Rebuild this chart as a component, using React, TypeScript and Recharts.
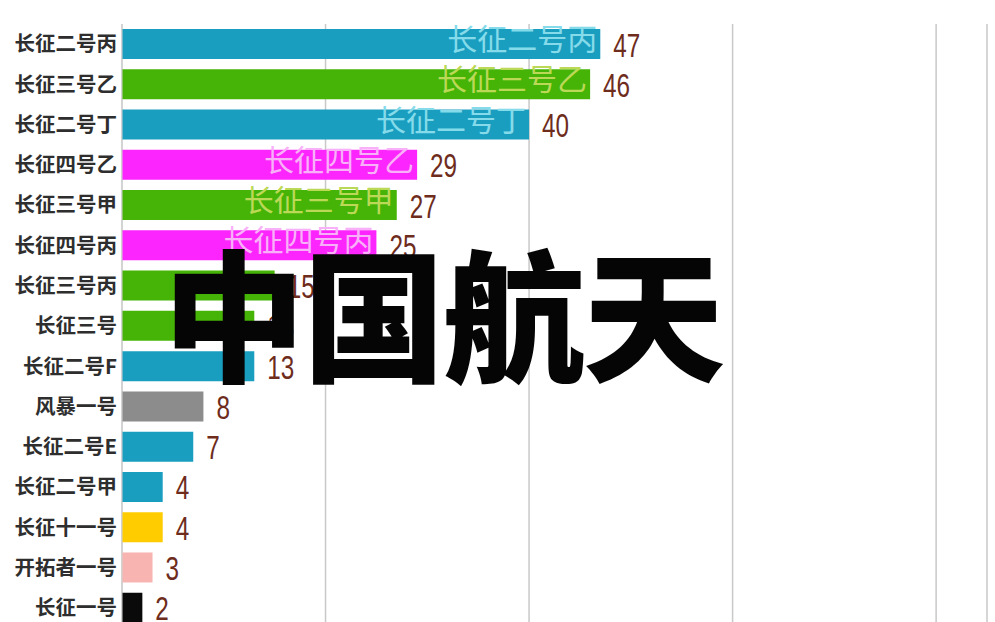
import React from 'react';
import { BarChart, Bar, XAxis, YAxis, CartesianGrid, Cell, LabelList } from 'recharts';

const rockets = [
  '长征二号丙', '长征三号乙', '长征二号丁', '长征四号乙', '长征三号甲',
  '长征四号丙', '长征三号丙', '长征三号', '长征二号F', '风暴一号',
  '长征二号E', '长征二号甲', '长征十一号', '开拓者一号', '长征一号',
];
const launches = [47, 46, 40, 29, 27, 25, 15, 13, 13, 8, 7, 4, 4, 3, 2];
const family = [
  'cz2', 'cz3', 'cz2', 'cz4', 'cz3',
  'cz4', 'cz3', 'cz3', 'cz2', 'fb1',
  'cz2', 'cz2', 'cz11', 'kt1', 'cz1',
];
const xTicks = [0, 20, 40, 60, 80];

const barColor: Record<string, string> = {
  cz2: '#1a9ec0',
  cz3: '#45b406',
  cz4: '#fd25fd',
  fb1: '#8c8c8c',
  cz11: '#ffcc00',
  kt1: '#f8b4b0',
  cz1: '#0a0a0a',
};
const nameColor: Record<string, string> = {
  cz2: '#86dbea',
  cz3: '#bcd857',
  cz4: '#f8b0f8',
  fb1: '#cccccc',
  cz11: '#ffe680',
  kt1: '#fde0de',
  cz1: '#888888',
};

const data = rockets.map((name, i) => ({ name, value: launches[i], family: family[i] }));

const InnerName = (props: any) => {
  const { x, y, width, height, index } = props;
  const d = data[index];
  if (!d || d.value < 20) return null;
  return (
    <text
      x={x + width - 3}
      y={y + height / 2 - 7}
      textAnchor="end"
      dominantBaseline="central"
      fontSize={30}
      fontFamily="'Noto Sans CJK SC', sans-serif"
      fill={nameColor[d.family]}
    >
      {d.name}
    </text>
  );
};

const ValueLabel = (props: any) => {
  const { x, y, width, height, value } = props;
  const s = String(value);
  return (
    <text
      x={x + width + 13}
      y={y + height / 2 + 1}
      dominantBaseline="central"
      fontSize={33}
      textLength={s.length * 13.5}
      lengthAdjust="spacingAndGlyphs"
      fontFamily="'Liberation Sans', sans-serif"
      fill="#6e2c1c"
    >
      {s}
    </text>
  );
};

export default function App() {
  return (
    <div style={{ position: 'absolute', left: 0, top: 0, width: 995, height: 622, overflow: 'hidden', background: '#fff' }}>
      <BarChart
        width={995}
        height={630}
        data={data}
        layout="vertical"
        margin={{ top: 24, right: 8, bottom: 2, left: 0 }}
        barSize={30}
      >
        <CartesianGrid horizontal={false} stroke="#c8c8c8" strokeWidth={1.5} />
        <XAxis type="number" domain={[0, 85]} ticks={xTicks} hide />
        <YAxis
          type="category"
          dataKey="name"
          width={122}
          tickLine={false}
          tickSize={0}
          tickMargin={5}
          axisLine={{ stroke: '#d0d0d0' }}
          interval={0}
          tick={{ fontSize: 20.5, fontWeight: 700, fill: '#2e2e2e', fontFamily: "'Noto Sans CJK SC', sans-serif" }}
        />
        <Bar dataKey="value" isAnimationActive={false}>
          {data.map((d) => (
            <Cell key={d.name} fill={barColor[d.family]} />
          ))}
          <LabelList dataKey="name" content={InnerName} />
          <LabelList dataKey="value" content={ValueLabel} />
        </Bar>
      </BarChart>
      <div
        style={{
          position: 'absolute',
          left: 163,
          top: 238,
          fontSize: 142,
          lineHeight: 1,
          fontWeight: 900,
          fontFamily: "'Noto Sans CJK SC', sans-serif",
          color: '#050505',
          whiteSpace: 'nowrap',
          letterSpacing: -2,
        }}
      >
        中国航天
      </div>
    </div>
  );
}
